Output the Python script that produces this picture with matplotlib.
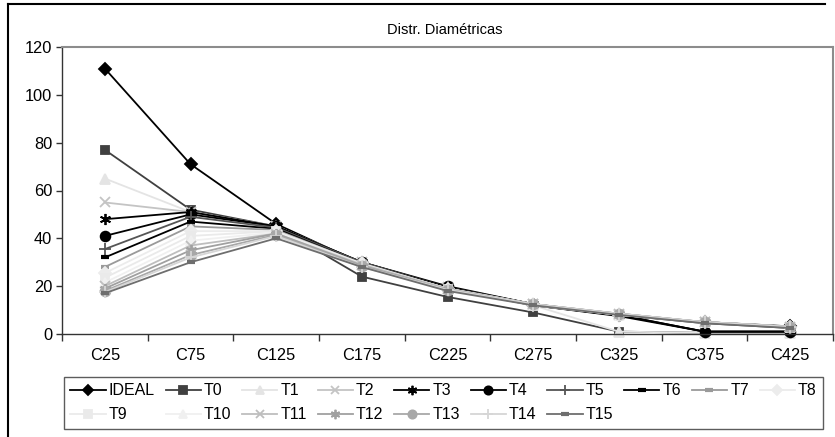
import numpy as np
import matplotlib
matplotlib.use('Agg')
import matplotlib.pyplot as plt
from matplotlib.lines import Line2D

plt.rcParams['font.family'] = ['Liberation Sans', 'DejaVu Sans']

categories = ['C25', 'C75', 'C125', 'C175', 'C225', 'C275', 'C325', 'C375', 'C425']

series_names = ['IDEAL', 'T0', 'T1', 'T2', 'T3', 'T4', 'T5', 'T6', 'T7',
                'T8', 'T9', 'T10', 'T11', 'T12', 'T13', 'T14', 'T15']

ideal = [111, 71, 46, 29.5, 19, 12, 7.8, 5, 3.2]
t0 = [77, 52, 45, 24, 15.5, 9, 1, 0.5, 0.5]
t1 = [65, 51, 45, 30, 19, 12, 1, 0.5, 0.5]
t2 = [55, 51, 45, 30, 19.5, 12.5, 8, 5, 2.5]
t3 = [48, 51, 45, 30, 19.5, 12.5, 8, 1, 1]
t4 = [41, 50, 45, 30, 20, 12.5, 8, 1, 1]
t5 = [35.5, 49, 44.5, 30, 19.5, 12.5, 8, 4.5, 2.5]
t6 = [32, 47, 44, 29.5, 19.5, 12, 7.5, 1, 1]
t7 = [28, 45, 43.5, 29.5, 19, 12, 8, 5, 3]
t8 = [25.5, 43, 43, 29.5, 19, 12, 8, 5, 3]
t9 = [23.5, 41, 43, 29, 19, 12.5, 8, 5, 3]
t10 = [21.5, 39, 42.5, 29, 19, 12.5, 8, 5, 3]
t11 = [20, 37, 42, 29, 19, 12.5, 8.5, 5, 3]
t12 = [19, 35, 42, 28.5, 18.5, 12.5, 8.5, 5, 3]
t13 = [18, 33, 41.5, 28.5, 18.5, 12.5, 8.5, 5, 3]
t14 = [17.5, 32, 41, 28, 18.5, 12.5, 8.5, 5, 3]
t15 = [17, 30, 40, 28, 18, 12, 8, 4.5, 2.5]

all_values = [ideal, t0, t1, t2, t3, t4, t5, t6, t7,
              t8, t9, t10, t11, t12, t13, t14, t15]

# estilo de cada serie (cor, marcador, tamanho)
asterisk = (6, 2, 0)
styles = [
    ('#000000', 'D', 6),
    ('#404040', 's', 6),
    ('#e4e4e4', '^', 7),
    ('#c4c4c4', 'x', 7),
    ('#000000', asterisk, 8),
    ('#000000', 'o', 7),
    ('#555555', '+', 8),
    ('#000000', '_', 6),
    ('#9a9a9a', '_', 6),
    ('#ececec', 'D', 6),
    ('#eaeaea', 's', 6),
    ('#f0f0f0', '^', 7),
    ('#bebebe', 'x', 7),
    ('#a0a0a0', asterisk, 8),
    ('#a8a8a8', 'o', 7),
    ('#d6d6d6', '+', 8),
    ('#6e6e6e', '_', 6),
]

fig = plt.figure(figsize=(8.35, 4.37), dpi=100)
ax = fig.add_axes([62 / 835, 1 - 334 / 437, (833 - 62) / 835, 287 / 437])

x = np.arange(len(categories))
handles = []
for name, vals, (color, marker, ms) in zip(series_names, all_values, styles):
    mew = 3 if marker == '_' else 1.3
    h, = ax.plot(x, vals, color=color, marker=marker, markersize=ms,
                 markeredgewidth=mew, markeredgecolor=color,
                 markerfacecolor=color, linewidth=1.3, label=name,
                 clip_on=False)
    handles.append(h)

ax.set_xlim(-0.5, len(categories) - 0.5)
ax.set_ylim(0, 120)
ax.set_yticks(np.arange(0, 121, 20))
ax.set_xticks(x)
ax.set_xticklabels(categories)
ax.set_xticks(np.arange(-0.5, len(categories), 1), minor=True)
ax.tick_params(axis='x', which='major', length=0, pad=10, labelsize=11.8)
ax.tick_params(axis='x', which='minor', length=5, width=1, color='#333333')
ax.tick_params(axis='y', length=4, width=1, color='#333333', labelsize=11.8, pad=3)

for side in ['left', 'bottom']:
    ax.spines[side].set_color('#333333')
    ax.spines[side].set_linewidth(1.0)
for side in ['top', 'right']:
    ax.spines[side].set_color('#8c8c8c')
    ax.spines[side].set_linewidth(1.5)

fig.text(445 / 835, 1 - 30 / 437, 'Distr. Diamétricas', ha='center',
         va='center', fontsize=10.5)

# legenda em linhas (matplotlib preenche por colunas)
blank = Line2D([], [], color='none')
ncol = 10
row1 = list(zip(handles[:ncol], series_names[:ncol]))
row2 = list(zip(handles[ncol:], series_names[ncol:]))
row2 += [(blank, '')] * (ncol - len(row2))
ordered = []
for a, b in zip(row1, row2):
    ordered += [a, b]
leg = fig.legend([h for h, _ in ordered], [l for _, l in ordered],
                 ncol=ncol, loc='upper left',
                 bbox_to_anchor=(64 / 835, 1 - 377 / 437, (823 - 64) / 835, 0),
                 mode='expand', fancybox=False, frameon=True,
                 edgecolor='#333333', fontsize=11.5, handlelength=2.2,
                 handletextpad=0.2, borderpad=0.4, labelspacing=0.55,
                 borderaxespad=0, columnspacing=0.3, markerscale=0.85)
leg.get_frame().set_linewidth(1.0)

# borda da área do gráfico
fig.add_artist(Line2D([8 / 835, 825 / 835], [1 - 4 / 437, 1 - 4 / 437],
                      transform=fig.transFigure, color='black', linewidth=1.5))
fig.add_artist(Line2D([8 / 835, 8 / 835], [1 - 4 / 437, 0],
                      transform=fig.transFigure, color='black', linewidth=1.5))

fig.savefig('out.png', dpi=100)
